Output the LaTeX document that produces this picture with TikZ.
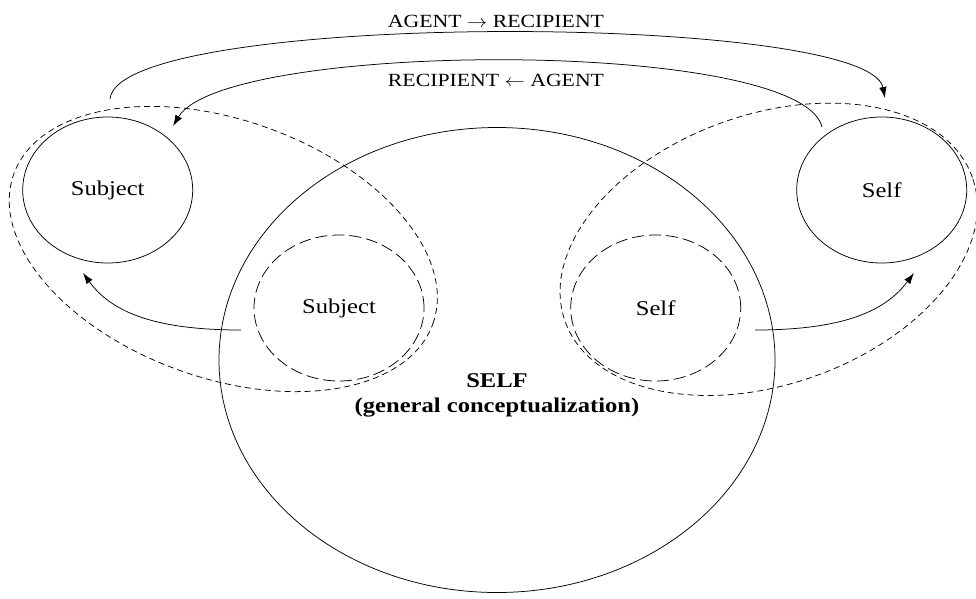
\documentclass[tikz,border=0pt]{standalone}
\usepackage{fontspec}
\setmainfont{Liberation Serif}
\usetikzlibrary{shapes.geometric,arrows.meta}
\newcommand{\sx}[1]{\scalebox{1.17}[1]{#1}}
\tikzset{
  solidell/.style={ellipse, draw, line width=0.75pt, inner sep=0pt, minimum width=170pt, minimum height=146pt},
  innerell/.style={ellipse, draw, line width=0.75pt, dash pattern=on 12pt off 5pt, inner sep=0pt, minimum width=170pt, minimum height=146pt},
  groupell/.style={ellipse, draw, line width=0.75pt, dash pattern=on 6pt off 4pt, inner sep=0pt},
  bigell/.style={ellipse, draw, line width=0.75pt, inner sep=0pt, minimum width=556pt, minimum height=465pt},
  lbl/.style={font=\fontsize{21}{25}\selectfont},
  arclbl/.style={font=\fontsize{18.6}{22}\selectfont, anchor=base, inner sep=0pt},
  conn/.style={line width=0.75pt, -{Latex[length=11pt,width=7.5pt]}},
}
\begin{document}
\begin{tikzpicture}[x=1pt,y=-1pt]
\useasboundingbox (0,0) rectangle (976,598);
% big SELF ellipse
\node[bigell] (big) at (497,360) {};
% group dashed ellipses
\node[groupell, minimum width=445pt, minimum height=258pt, rotate=-19.6] (grpL) at (223.3,249) {};
\node[groupell, minimum width=432pt, minimum height=270pt, rotate=19.4] (grpR) at (768.7,249.3) {};
% ellipses with labels
\node[solidell, lbl] (subj) at (107.7,190) {\sx{Subject}};
\node[solidell, lbl] (self) at (881.7,190) {\sx{Self}};
\node[innerell, lbl] (isubj) at (339,308) {\sx{Subject}};
\node[innerell, lbl] (iself) at (655.7,308) {\sx{Self}};
% central labels
\node[lbl, anchor=base, inner sep=0pt] (selfT) at (497,387.3) {\sx{\textbf{SELF}}};
\node[lbl, anchor=base, inner sep=0pt] (selfG) at (497,412) {\sx{\textbf{(general conceptualization)}}};
% arc labels
\node[arclbl] (lab1) at (496,27.3) {\sx{AGENT $\rightarrow$ RECIPIENT}};
\node[arclbl] (lab2) at (496,86) {\sx{RECIPIENT $\leftarrow$ AGENT}};
% connector end points
\coordinate (a1s) at (110,99);
\coordinate (a1e) at (885,98);
\coordinate (a2s) at (822,127);
\coordinate (a2e) at (173,126);
\coordinate (b1s) at (241,330);
\coordinate (b1e) at (83,273);
\coordinate (b2s) at (755,330);
\coordinate (b2e) at (914,273);
% connectors
\draw[conn] (a1s) .. controls (118,10) and (868,12) .. (a1e);
\draw[conn] (a2s) .. controls (800,38) and (225,40) .. (a2e);
\draw[conn] (b1s) .. controls (150,330) and (110,310) .. (b1e);
\draw[conn] (b2s) .. controls (846,330) and (886,310) .. (b2e);
\end{tikzpicture}
\end{document}
